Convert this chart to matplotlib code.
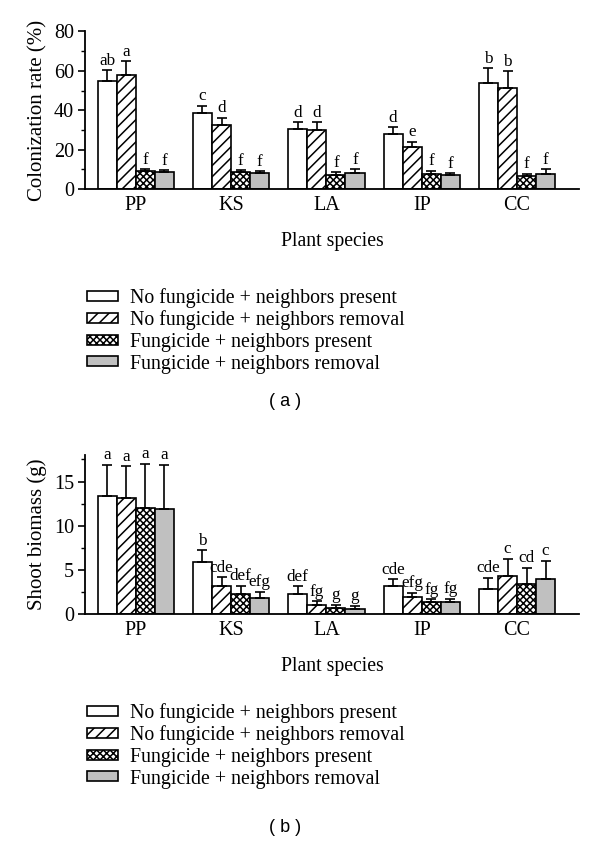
import matplotlib
matplotlib.use("Agg")
import matplotlib.pyplot as plt
import numpy as np
from matplotlib.patches import Patch
from matplotlib.ticker import MultipleLocator

# ---- data ----
species = ["PP", "KS", "LA", "IP", "CC"]
treatments = [
    "No fungicide + neighbors present",
    "No fungicide + neighbors removal",
    "Fungicide + neighbors present",
    "Fungicide + neighbors removal",
]

# (a) colonization rate (%)
col_nf_np = [55.0, 38.6, 30.6, 27.7, 53.6]
col_nf_nr = [58.0, 32.3, 30.1, 21.5, 51.2]
col_f_np = [9.0, 8.8, 7.3, 7.6, 6.4]
col_f_nr = [8.5, 8.1, 8.1, 6.9, 7.8]
col_err_nf_np = [5.4, 3.7, 3.4, 3.8, 7.6]
col_err_nf_nr = [6.8, 3.9, 3.9, 2.5, 8.7]
col_err_f_np = [1.0, 0.7, 1.3, 1.7, 1.5]
col_err_f_nr = [1.2, 0.9, 2.0, 1.2, 2.2]
col_let_nf_np = ["ab", "c", "d", "d", "b"]
col_let_nf_nr = ["a", "d", "d", "e", "b"]
col_let_f_np = ["f", "f", "f", "f", "f"]
col_let_f_nr = ["f", "f", "f", "f", "f"]

# (b) shoot biomass (g)
bio_nf_np = [13.4, 5.9, 2.3, 3.2, 2.9]
bio_nf_nr = [13.1, 3.2, 1.1, 1.9, 4.35]
bio_f_np = [12.0, 2.3, 0.75, 1.4, 3.4]
bio_f_nr = [11.9, 1.85, 0.65, 1.4, 3.95]
bio_err_nf_np = [3.5, 1.35, 0.9, 0.8, 1.25]
bio_err_nf_nr = [3.65, 1.0, 0.4, 0.55, 1.95]
bio_err_f_np = [5.0, 0.95, 0.35, 0.3, 1.85]
bio_err_f_nr = [5.0, 0.7, 0.3, 0.35, 2.1]
bio_let_nf_np = ["a", "b", "def", "cde", "cde"]
bio_let_nf_nr = ["a", "cde", "fg", "efg", "c"]
bio_let_f_np = ["a", "def", "g", "fg", "cd"]
bio_let_f_nr = ["a", "efg", "g", "fg", "c"]

# bar styles: white, diagonal hatch, cross hatch, gray
styles = [
    dict(facecolor="white", hatch=""),
    dict(facecolor="white", hatch="///"),
    dict(facecolor="white", hatch="xxxxx"),
    dict(facecolor="#c0c0c0", hatch=""),
]

SERIF = "Liberation Serif"
FS = 14.5
plt.rcParams["font.family"] = SERIF
plt.rcParams["hatch.linewidth"] = 1.1
plt.rcParams["hatch.color"] = "black"

fig = plt.figure(figsize=(6.0, 8.48), dpi=100)


def draw_panel(ax, means, errs, letters, ylim, major, minor, ylabel):
    x = np.arange(len(species))
    width = 0.2
    for i, (m, e, lets) in enumerate(zip(means, errs, letters)):
        xs = x - 0.3 + i * width
        ax.bar(xs, m, width, edgecolor="black", linewidth=1.2,
               zorder=2, **styles[i])
        ax.errorbar(xs, m, yerr=[np.zeros(len(m)), e], fmt="none",
                    ecolor="black", elinewidth=1.2, capsize=3.5,
                    capthick=1.2, zorder=3)
        for xi, mi, ei, lt in zip(xs, m, e, lets):
            ax.annotate(lt, (xi, mi + ei), xytext=(0, 1.0),
                        textcoords="offset points", ha="center",
                        va="bottom", fontsize=12.3, family=SERIF)
    ax.set_xlim(-0.53, 4.65)
    ax.set_ylim(*ylim)
    ax.set_xticks(x)
    ax.set_xticklabels(species, fontsize=FS)
    ax.tick_params(axis="x", length=0, pad=5)
    ax.yaxis.set_major_locator(MultipleLocator(major))
    ax.yaxis.set_minor_locator(MultipleLocator(minor))
    ax.tick_params(axis="y", which="major", direction="out", length=5,
                   width=1.2, labelsize=FS, pad=3)
    ax.tick_params(axis="y", which="minor", direction="out", length=3,
                   width=1.0)
    for side in ("top", "right"):
        ax.spines[side].set_visible(False)
    for side in ("left", "bottom"):
        ax.spines[side].set_linewidth(1.3)
    ax.set_ylabel(ylabel, fontsize=15, labelpad=5)
    ax.set_xlabel("Plant species", fontsize=14.2, labelpad=12)


ax1 = fig.add_axes([0.142, 0.777, 0.823, 0.186])
draw_panel(ax1,
           [col_nf_np, col_nf_nr, col_f_np, col_f_nr],
           [col_err_nf_np, col_err_nf_nr, col_err_f_np, col_err_f_nr],
           [col_let_nf_np, col_let_nf_nr, col_let_f_np, col_let_f_nr],
           (0, 80), 20, 10, "Colonization rate (%)")

ax2 = fig.add_axes([0.142, 0.2756, 0.823, 0.1878])
draw_panel(ax2,
           [bio_nf_np, bio_nf_nr, bio_f_np, bio_f_nr],
           [bio_err_nf_np, bio_err_nf_nr, bio_err_f_np, bio_err_f_nr],
           [bio_let_nf_np, bio_let_nf_nr, bio_let_f_np, bio_let_f_nr],
           (0, 18), 5, 2.5, "Shoot biomass (g)")

handles = [Patch(edgecolor="black", linewidth=1.2, **s) for s in styles]
for ytop in (1 - 288 / 848, 1 - 703 / 848):
    fig.legend(handles, treatments, loc="upper left",
               bbox_to_anchor=(87 / 600, ytop), frameon=False, borderpad=0,
               borderaxespad=0, handlelength=1.55, handleheight=0.4,
               handletextpad=0.62, labelspacing=0.13,
               prop={"family": SERIF, "size": 14.3})

fig.text(0.475, 1 - 401 / 848, "( a )", ha="center", va="center",
         fontsize=13, family="Liberation Sans")
fig.text(0.475, 1 - 828 / 848, "( b )", ha="center", va="center",
         fontsize=13, family="Liberation Sans")

fig.savefig("out.png", dpi=100)
plt.close(fig)
